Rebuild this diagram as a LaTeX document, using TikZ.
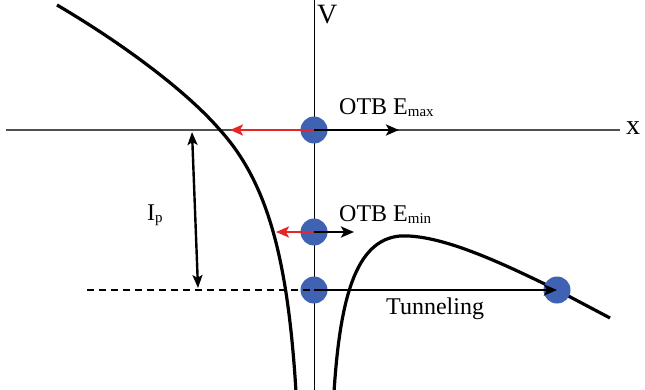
\documentclass[tikz,border=0pt]{standalone}
\usepackage{fontspec}
\setmainfont{Liberation Serif}
\usetikzlibrary{calc, positioning}
\usetikzlibrary{arrows.meta}

\definecolor{dotblue}{RGB}{63,99,178}
\definecolor{pushred}{RGB}{228,38,38}
\definecolor{axisgray}{RGB}{80,80,80}

\newcommand{\lsub}[1]{\raisebox{-1.5pt}{\fontsize{15}{15}\selectfont #1}}

\tikzset{
  electron/.style={circle, fill=dotblue, minimum size=27pt, inner sep=0pt},
  push/.style={-{Stealth[length=13pt, width=11pt, inset=3pt]}, line width=2.6pt},
  label/.style={font=\fontsize{24}{26}\selectfont, inner sep=0pt, anchor=base west}
}

\begin{document}
\begin{tikzpicture}[x=1pt, y=-1pt]
\def\axisy{130}
\def\axisx{314}
\def\levmin{232}
\def\levion{290}

\useasboundingbox (0,0) rectangle (645,390);

\coordinate (XL) at (6,\axisy);
\coordinate (XR) at (620,\axisy);
\coordinate (VB) at (\axisx,390);
\coordinate (VT) at (\axisx,0);
\coordinate (DashL) at (87,\levion);
\coordinate (RedMax) at (230,\axisy);
\coordinate (BlkMax) at (399,\axisy);
\coordinate (RedMin) at (276,\levmin);
\coordinate (BlkMin) at (354,\levmin);
\coordinate (IpT) at (192,132);
\coordinate (IpB) at (198,288);

% axes
\draw[axisgray, line width=1.2pt] (XL) -- (XR);
\draw[black, line width=1pt] (VB) -- (VT);

% potential barrier
\draw[line width=3.2pt] (57,5) .. controls (130,48) and (190,95) .. (220,130)
  .. controls (268,183) and (288,260) .. (296,392);
\draw[line width=3.2pt] (334,392) .. controls (340,300) and (355,240) .. (400,236)
  .. controls (440,234) and (500,262) .. (557,290) -- (610,318);

% electrons
\node[electron] (emax) at (\axisx,\axisy) {};
\node[electron] (emin) at (\axisx,\levmin) {};
\node[electron] (eion) at (\axisx,\levion) {};
\node[electron] (eout) at (557,\levion) {};

\draw[push, pushred] (emax.center) -- (RedMax);
\draw[push] (emax.center) -- (BlkMax);
\draw[push, pushred] (emin.center) -- (RedMin);
\draw[push] (emin.center) -- (BlkMin);
\draw[line width=2.6pt, dash pattern=on 7pt off 5pt] (DashL) -- (eion.center);
\draw[push] (eion.center) -- (eout.center);
\draw[{Stealth[length=13pt, width=10pt, inset=3pt]}-{Stealth[length=13pt, width=10pt, inset=3pt]}, line width=2.4pt] (IpT) -- (IpB);

\node[label, font=\fontsize{28}{30}\selectfont] (lv) at (317,24) {V};
\node[label, font=\fontsize{28}{30}\selectfont] (lx) at (626,135) {x};
\node[label] (lmax) at (339,115) {OTB E\lsub{max}};
\node[label] (lmin) at (339,222) {OTB E\lsub{min}};
\node[label] (lip) at (147,221) {I\lsub{p}};
\node[label] (ltun) at (386,314) {Tunneling};
\end{tikzpicture}
\end{document}
